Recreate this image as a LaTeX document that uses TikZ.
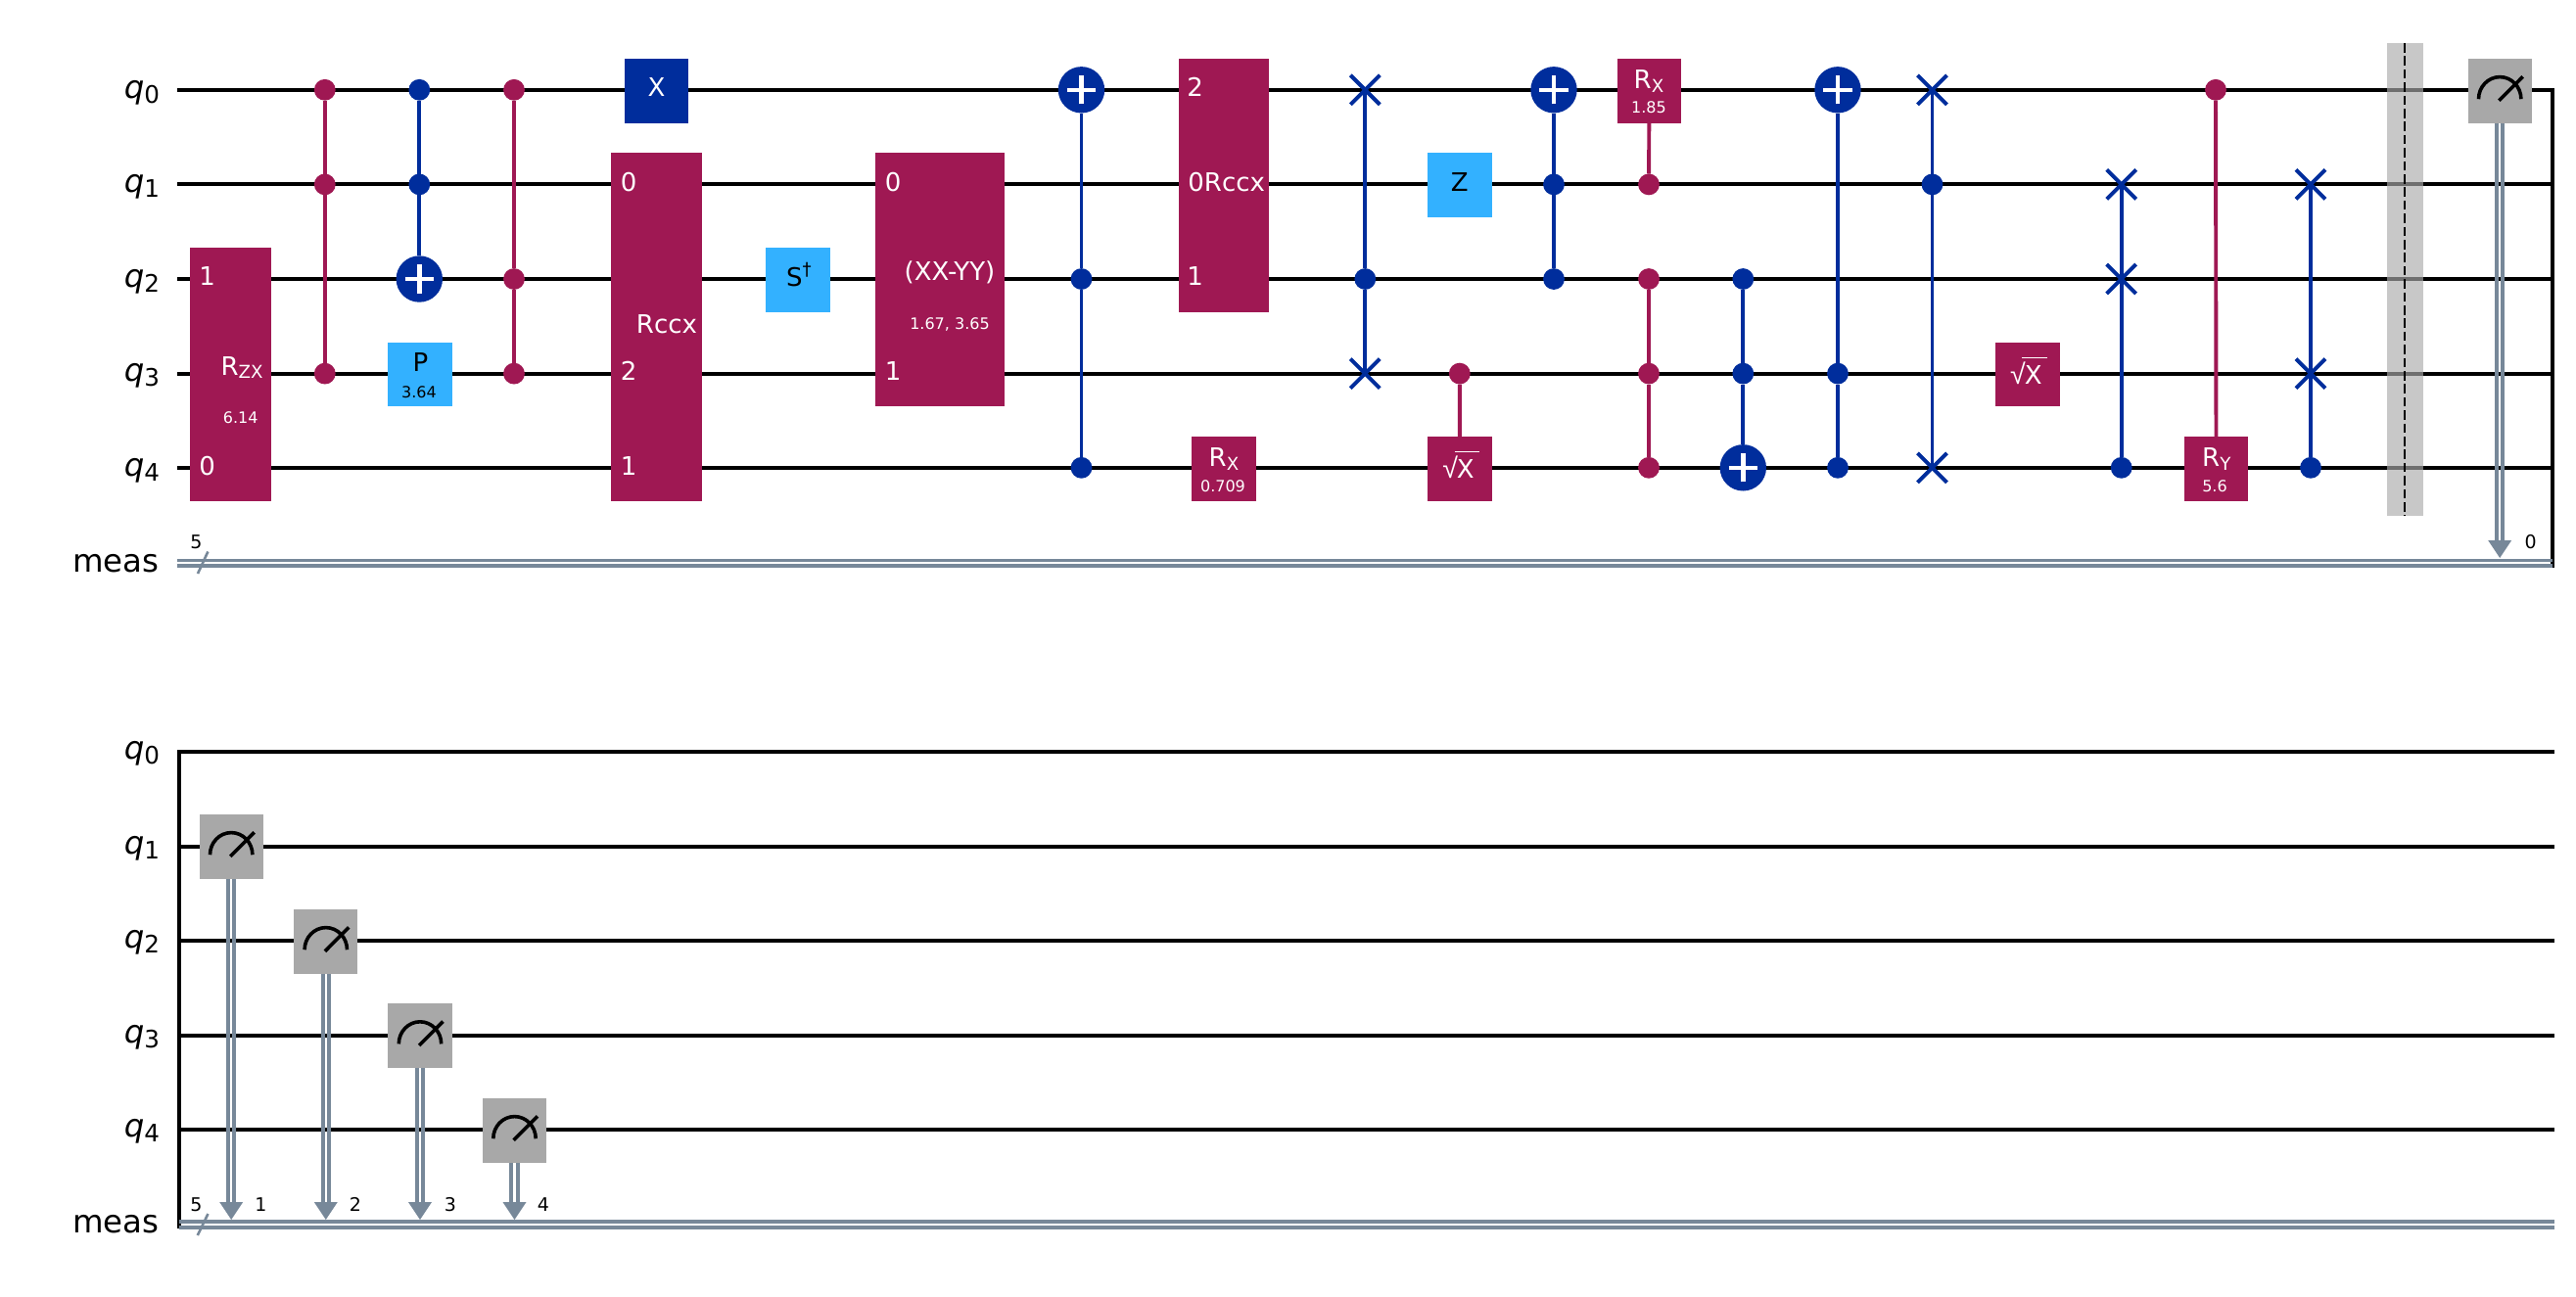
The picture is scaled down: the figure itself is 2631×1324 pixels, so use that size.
\documentclass[tikz,border=0pt]{standalone}
\usepackage{fontspec}
\setmainfont{DejaVu Sans}
\newfontfamily\thinf{Liberation Sans}
\usetikzlibrary{arrows.meta}
\definecolor{qblue}{HTML}{002D9C}
\definecolor{qpurple}{HTML}{9F1853}
\definecolor{qlight}{HTML}{33B1FF}
\definecolor{qgrey}{HTML}{A8A8A8}
\definecolor{qwire}{HTML}{778899}
\definecolor{qbar}{HTML}{ABABAB}
\pgfdeclarelayer{wirelayer}
\pgfdeclarelayer{connlayer}
\pgfdeclarelayer{toplayer}
\pgfsetlayers{wirelayer,connlayer,main,toplayer}
\newcommand{\fsg}{\fontsize{13}{15}\selectfont}
\newcommand{\fss}{\fontsize{8}{10}\selectfont}
\newcommand{\fsc}{\fontsize{9.5}{11}\selectfont}
\newcommand{\fsr}{\fontsize{16.2}{18}\selectfont}
\newcommand{\qsub}[1]{\textit{q}\raisebox{-2.5pt}{\fontsize{12.3}{13}\selectfont #1}}
\newcommand{\gsub}[1]{R\raisebox{-0.14em}{\fontsize{9.1}{10}\selectfont #1}}
\newcommand{\sqrx}{\scalebox{1.1}[1.1]{\thinf √}\kern-0.5pt\rlap{\kern-1.2pt\raisebox{13.1pt}{\rule{12.6pt}{0.45pt}}}X}
\newcommand{\gbox}[6]{\node[gatebox,fill=#6,minimum width={(#4-#2)*0.5pt},minimum height={(#5-#3)*0.5pt}] (#1) at ({(#2+#4)/2},{(#3+#5)/2}) {};}
\newcommand{\cdt}[4]{\node[ctrldot,fill=#4] (#1) at (#2,#3) {};}
\newcommand{\tgt}[3]{\node[targetdot] (#1) at (#2,#3) {};
  \draw[pluss] ([xshift=-7.3pt]#1.center) -- ([xshift=7.3pt]#1.center);
  \draw[pluss] ([yshift=-7.3pt]#1.center) -- ([yshift=7.3pt]#1.center);}
\newcommand{\swp}[3]{\coordinate (#1) at (#2,#3);
  \draw[swapline] ([shift={(-15,-15)}]#1) -- ([shift={(15,15)}]#1);
  \draw[swapline] ([shift={(-15,15)}]#1) -- ([shift={(15,-15)}]#1);}
\newcommand{\meter}[5]{\node[gatebox,fill=qgrey,minimum width=32.6pt,minimum height=32.8pt] (#1) at (#2,#3) {};
  \draw[meterline] ([shift={(-21.7,8.4)}]#1.center) arc[start angle=180,end angle=0,x radius=10.85pt,y radius=11.3pt];
  \draw[meterline] ([shift={(-0.9,10)}]#1.center) -- ([shift={(23.5,-14.5)}]#1.center);
  \coordinate (#1tip) at (#2,#4);
  \begin{pgfonlayer}{connlayer}
    \draw[classic] ([xshift=-1.55pt]#1.south) -- ([xshift=-1.55pt]#1.south |- 0,#5);
    \draw[classic] ([xshift=1.55pt]#1.south) -- ([xshift=1.55pt]#1.south |- 0,#5);
    \fill[qwire] (#2,#4) -- (#2-12,#5-1) -- (#2+12,#5-1) -- cycle;
  \end{pgfonlayer}}
\tikzset{
  gatebox/.style={rectangle,draw=none,inner sep=0pt,outer sep=0pt},
  ctrldot/.style={circle,draw=none,inner sep=0pt,outer sep=0pt,minimum size=10.9pt},
  targetdot/.style={circle,draw=none,fill=qblue,inner sep=0pt,outer sep=0pt,minimum size=23.7pt},
  pluss/.style={white,line width=2.2pt},
  swapline/.style={qblue,line width=1.95pt},
  meterline/.style={black,line width=1.8pt},
  wireline/.style={black,line width=1.95pt,line cap=rect},
  classic/.style={qwire,line width=2pt},
  classich/.style={qwire,line width=1.8pt},
  bluelink/.style={qblue,line width=1.95pt},
  purplelink/.style={qpurple,line width=1.95pt},
  reglabel/.style={inner sep=0pt,anchor=base east,font=\fsr,text=black},
  gt/.style={inner sep=0pt,anchor=base,font=\fsg,text=white},
  gtw/.style={inner sep=0pt,anchor=base west,font=\fsg,text=white},
  gtk/.style={inner sep=0pt,anchor=base,font=\fsg,text=black},
  st/.style={inner sep=0pt,anchor=base,font=\fss,text=white},
  stk/.style={inner sep=0pt,anchor=base,font=\fss,text=black},
  cnt/.style={inner sep=0pt,anchor=base,font=\fsc,text=black},
}
\begin{document}
\begin{tikzpicture}[x=0.5pt,y=-0.5pt]
\useasboundingbox (0,0) rectangle (2631,1324);
% ---------- wire end points
\coordinate (a0l) at (181,91.8);   \coordinate (a0r) at (2607.3,91.8);
\coordinate (a1l) at (181,188.4);  \coordinate (a1r) at (2607.3,188.4);
\coordinate (a2l) at (181,285);    \coordinate (a2r) at (2607.3,285);
\coordinate (a3l) at (181,381.6);  \coordinate (a3r) at (2607.3,381.6);
\coordinate (a4l) at (181,477.8);  \coordinate (a4r) at (2607.3,477.8);
\coordinate (b0l) at (182.6,767.8);  \coordinate (b0r) at (2609,767.8);
\coordinate (b1l) at (182.6,864.8);  \coordinate (b1r) at (2609,864.8);
\coordinate (b2l) at (182.6,960.8);  \coordinate (b2r) at (2609,960.8);
\coordinate (b3l) at (182.6,1057.8); \coordinate (b3r) at (2609,1057.8);
\coordinate (b4l) at (182.6,1153.7); \coordinate (b4r) at (2609,1153.7);
\coordinate (bbar) at (182.6,1253.5);
\coordinate (abar) at (2607.3,578);
\coordinate (am1l) at (181,572.3);  \coordinate (am1r) at (2607.3,572.3);
\coordinate (am2l) at (181,577.7);  \coordinate (am2r) at (2607.3,577.7);
\coordinate (bm1l) at (182.6,1247.9); \coordinate (bm1r) at (2609,1247.9);
\coordinate (bm2l) at (182.6,1254); \coordinate (bm2r) at (2609,1254);
\coordinate (as1) at (202,586);    \coordinate (as2) at (212.4,563.5);
\coordinate (bs1) at (201.8,1262); \coordinate (bs2) at (212.5,1240);
\begin{pgfonlayer}{wirelayer}
  \foreach \i in {0,...,4} {
    \draw[wireline,line cap=butt] (a\i l) -- (a\i r);
    \draw[wireline,line cap=butt] (b\i l) -- (b\i r);
  }
  \draw[wireline] (a0r) -- (abar);
  \draw[wireline] (b0l) -- (bbar);
  \draw[classich] (am1l) -- (am1r);
  \draw[classich] (am2l) -- (am2r);
  \draw[classich] (bm1l) -- (bm1r);
  \draw[classich] (bm2l) -- (bm2r);
  \draw[qwire,line width=1.3pt] (as1) -- (as2);
  \draw[qwire,line width=1.3pt] (bs1) -- (bs2);
\end{pgfonlayer}
% ---------- register labels
\node[reglabel] (la0) at (163.5,100) {\qsub{0}};
\node[reglabel] (la1) at (163.5,196.5) {\qsub{1}};
\node[reglabel] (la2) at (163.5,293) {\qsub{2}};
\node[reglabel] (la3) at (163.5,389.5) {\qsub{3}};
\node[reglabel] (la4) at (163.5,486) {\qsub{4}};
\node[reglabel] (lam) at (163,584) {meas};
\node[reglabel] (lb0) at (163.5,775.5) {\qsub{0}};
\node[reglabel] (lb1) at (163.5,872.5) {\qsub{1}};
\node[reglabel] (lb2) at (163.5,968.5) {\qsub{2}};
\node[reglabel] (lb3) at (163.5,1065.5) {\qsub{3}};
\node[reglabel] (lb4) at (163.5,1161.5) {\qsub{4}};
\node[reglabel] (lbm) at (163,1259.5) {meas};
% ---------- counts
\node[cnt] (c5a) at (200.4,560.7) {5};
\node[cnt] (c0a) at (2584.6,560.7) {0};
\node[cnt] (c5b) at (200.4,1237) {5};
\node[cnt] (c1b) at (266.5,1237) {1};
\node[cnt] (c2b) at (363,1237) {2};
\node[cnt] (c3b) at (460,1237) {3};
\node[cnt] (c4b) at (555,1237) {4};
% ---------- Rzx
\gbox{rzx}{194}{253}{277}{512}{qpurple}
\node[gtw] (rzxi1) at (203,291.5) {1};
\node[gtw] (rzxi0) at (203,485) {0};
\node[gt] (rzxt) at (247,383) {\gsub{ZX}};
\node[st] (rzxp) at (245.7,432) {6.14};
% ---------- ccz 1
\cdt{d1a}{331.8}{91.8}{qpurple}
\cdt{d1b}{331.8}{188.4}{qpurple}
\cdt{d1c}{331.8}{381.6}{qpurple}
% ---------- ccx + p
\cdt{d2a}{428.3}{91.8}{qblue}
\cdt{d2b}{428.3}{188.4}{qblue}
\tgt{t2}{428.3}{285}
\gbox{pg}{396}{350}{462}{415.3}{qlight}
\node[gtk] (pgt) at (429.4,379.6) {P};
\node[stk] (pgp) at (428,406.5) {3.64};
% ---------- ccz 2
\cdt{d3a}{525}{91.8}{qpurple}
\cdt{d3b}{525}{285}{qpurple}
\cdt{d3c}{525}{381.6}{qpurple}
% ---------- X + Rccx
\gbox{xg}{638}{60}{703}{126}{qblue}
\node[gt] (xgt) at (670.5,98) {X};
\gbox{rc1}{624}{156}{717}{512}{qpurple}
\node[gtw] (rc1a) at (633.5,195) {0};
\node[gtw] (rc1b) at (633.5,388.5) {2};
\node[gtw] (rc1c) at (633.5,485) {1};
\node[gt] (rc1t) at (681,340) {Rccx};
% ---------- Sdg
\gbox{sdg}{782}{253}{848}{319}{qlight}
\node[gtk] (sdgt) at (816,292) {S\raisebox{0.42em}{\fontsize{9.1}{10}\selectfont †}};
% ---------- XX-YY
\gbox{xy}{894}{156}{1026}{415.3}{qpurple}
\node[gtw] (xya) at (903.5,195) {0};
\node[gtw] (xyb) at (903.5,388.5) {1};
\node[gt] (xyt) at (970,286.7) {(XX-YY)};
\node[st] (xyp) at (970,336) {1.67, 3.65};
% ---------- ccx
\tgt{t3}{1104.5}{91.8}
\cdt{d4a}{1104.5}{285}{qblue}
\cdt{d4b}{1104.5}{477.8}{qblue}
% ---------- Rccx 2
\gbox{rc2}{1204}{60}{1296}{319}{qpurple}
\node[gtw] (rc2a) at (1212,98) {2};
\node[gtw] (rc2b) at (1213,195) {0};
\node[gtw] (rc2c) at (1212,291.5) {1};
\node[gt] (rc2t) at (1261,195) {Rccx};
\gbox{rx1}{1217}{446}{1283}{512}{qpurple}
\node[gt] (rx1t) at (1250,476.5) {\gsub{X}};
\node[st] (rx1p) at (1249,502) {0.709};
% ---------- cswap 1
\swp{s1a}{1394.3}{91.8}
\cdt{d5}{1394.3}{285}{qblue}
\swp{s1b}{1394.3}{381.6}
% ---------- Z and c-sqrtx
\gbox{zg}{1458}{156}{1524}{221.5}{qlight}
\node[gtk] (zgt) at (1490.8,195.7) {Z};
\cdt{d6}{1490.8}{381.6}{qpurple}
\gbox{sx1}{1458}{446}{1524}{512}{qpurple}
\node[gt] (sx1t) at (1489.5,488) {\sqrx};
% ---------- ccx
\tgt{t4}{1587}{91.8}
\cdt{d7a}{1587}{188.4}{qblue}
\cdt{d7b}{1587}{285}{qblue}
% ---------- crx
\gbox{rx2}{1652}{60}{1717}{126}{qpurple}
\node[gt] (rx2t) at (1684,90.5) {\gsub{X}};
\node[st] (rx2p) at (1684,115.7) {1.85};
\cdt{d8}{1684}{188.4}{qpurple}
% ---------- ccz 3
\cdt{d9a}{1684}{285}{qpurple}
\cdt{d9b}{1684}{381.6}{qpurple}
\cdt{d9c}{1684}{477.8}{qpurple}
% ---------- ccx
\cdt{d10a}{1780.3}{285}{qblue}
\cdt{d10b}{1780.3}{381.6}{qblue}
\tgt{t5}{1780.3}{477.8}
% ---------- ccx
\tgt{t6}{1877}{91.8}
\cdt{d11a}{1877}{381.6}{qblue}
\cdt{d11b}{1877}{477.8}{qblue}
% ---------- cswap
\swp{s2a}{1973.5}{91.8}
\cdt{d12}{1973.5}{188.4}{qblue}
\swp{s2b}{1973.5}{477.8}
% ---------- sqrtx
\gbox{sx2}{2037.7}{350}{2103.6}{415.3}{qpurple}
\node[gt] (sx2t) at (2069.3,392) {\sqrx};
% ---------- cswap
\swp{s3a}{2166.7}{188.4}
\swp{s3b}{2166.7}{285}
\cdt{d13}{2166.7}{477.8}{qblue}
% ---------- cry
\cdt{d14}{2263}{91.8}{qpurple}
\gbox{ry}{2231}{446}{2296}{512}{qpurple}
\node[gt] (ryt) at (2263.8,476.5) {\gsub{Y}};
\node[st] (ryp) at (2262,502) {5.6};
% ---------- cswap
\swp{s4a}{2360}{188.4}
\swp{s4b}{2360}{381.6}
\cdt{d15}{2360}{477.8}{qblue}
% ---------- barrier
\coordinate (bart) at (2456.3,44);
\coordinate (barb) at (2456.3,526.7);
\begin{pgfonlayer}{toplayer}
  \fill[qbar,opacity=0.655] (2438,44) rectangle (2474.7,526.7);
  \draw[black,line width=1.05pt,dash pattern=on 4.8pt off 1.9pt] (bart) -- (barb);
\end{pgfonlayer}
% ---------- measures
\meter{m0}{2553.2}{92.8}{570}{553}
\meter{m1}{236.2}{864.8}{1246}{1229}
\meter{m2}{332.8}{961.8}{1246}{1229}
\meter{m3}{429}{1058}{1246}{1229}
\meter{m4}{525.5}{1154.8}{1246}{1229}
% ---------- connectors
\begin{pgfonlayer}{connlayer}
  \draw[purplelink] (d1a) -- (d1b);
  \draw[purplelink] (d1b) -- (d1c);
  \draw[bluelink] (d2a) -- (d2b);
  \draw[bluelink] (d2b) -- (t2);
  \draw[purplelink] (d3a) -- (d3b);
  \draw[purplelink] (d3b) -- (d3c);
  \draw[bluelink] (t3) -- (d4a);
  \draw[bluelink] (d4a) -- (d4b);
  \draw[bluelink] (s1a) -- (d5);
  \draw[bluelink] (d5) -- (s1b);
  \draw[purplelink] (d6) -- (sx1);
  \draw[bluelink] (t4) -- (d7a);
  \draw[bluelink] (d7a) -- (d7b);
  \draw[purplelink] (rx2) -- (d8);
  \draw[purplelink] (d9a) -- (d9b);
  \draw[purplelink] (d9b) -- (d9c);
  \draw[bluelink] (d10a) -- (d10b);
  \draw[bluelink] (d10b) -- (t5);
  \draw[bluelink] (t6) -- (d11a);
  \draw[bluelink] (d11a) -- (d11b);
  \draw[bluelink] (s2a) -- (d12);
  \draw[bluelink] (d12) -- (s2b);
  \draw[bluelink] (s3a) -- (s3b);
  \draw[bluelink] (s3b) -- (d13);
  \draw[purplelink] (d14) -- (ry);
  \draw[bluelink] (s4a) -- (s4b);
  \draw[bluelink] (s4b) -- (d15);
\end{pgfonlayer}
\end{tikzpicture}
\end{document}
